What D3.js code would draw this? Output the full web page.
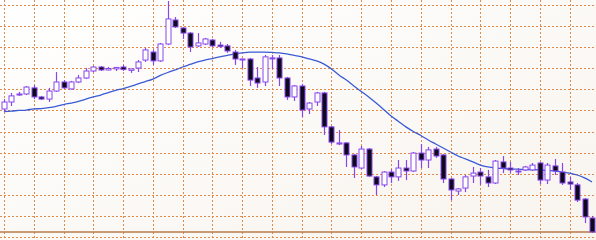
<!DOCTYPE html>
<html>
<head>
<meta charset="utf-8">
<script src="https://cdn.jsdelivr.net/npm/d3@7"></script>
<style>
  body { margin: 0; background: #fff; }
  svg { display: block; }
</style>
</head>
<body>
<script>
// candle data (arbitrary price units, grid step = 10)
var openVals = [60.7, 64.0, 67.6, 67.8, 70.7, 66.4, 65.4, 69.2, 73.5, 70.2,
    73.5, 75.4, 78.7, 80.6, 79.2, 79.7, 80.6, 79.0, 80.1, 83.9,
    87.7, 83.5, 91.5, 102.9, 99.1, 96.7, 90.6, 91.5, 93.4, 91.0,
    90.6, 87.7, 84.0, 84.4, 75.4, 73.5, 84.9, 84.9, 75.4, 66.4,
    71.6, 60.7, 64.0, 68.3, 52.2, 44.1, 44.6, 38.9, 32.7, 41.7,
    28.5, 24.7, 30.8, 28.5, 32.7, 31.3, 39.8, 36.5, 41.7, 38.9,
    27.5, 21.8, 23.2, 28.9, 30.8, 28.5, 25.6, 35.6, 32.7, 31.3,
    31.8, 31.8, 35.1, 27.0, 33.7, 30.8, 26.1, 24.7, 18.0, 9.0];

var highVals = [65.4, 68.3, 68.8, 71.6, 72.1, 66.9, 70.7, 78.2, 74.4, 74.0,
    76.8, 80.1, 81.1, 81.1, 80.6, 80.6, 81.6, 79.7, 83.9, 89.6,
    88.7, 92.0, 111.9, 104.3, 99.6, 97.2, 96.7, 94.4, 93.9, 92.5,
    91.5, 88.7, 84.6, 84.9, 80.6, 86.3, 86.3, 86.3, 75.9, 72.1,
    72.6, 64.0, 68.8, 68.8, 52.6, 50.7, 45.0, 39.4, 43.2, 42.2,
    28.9, 31.3, 32.2, 36.5, 36.5, 40.3, 44.1, 42.7, 42.7, 39.4,
    28.0, 23.2, 29.4, 33.2, 32.7, 31.8, 36.5, 38.4, 35.6, 32.7,
    33.7, 35.1, 35.6, 35.1, 37.0, 35.1, 28.5, 25.6, 18.5, 10.0];

var lowVals = [59.3, 62.1, 66.9, 67.3, 65.4, 65.0, 64.0, 68.8, 70.2, 69.9,
    73.0, 74.9, 78.2, 78.7, 79.0, 78.7, 78.7, 77.8, 78.2, 83.0,
    81.6, 83.0, 91.0, 99.1, 93.9, 87.7, 90.1, 91.0, 90.1, 89.6,
    87.3, 81.6, 80.1, 71.6, 70.7, 71.6, 79.7, 71.6, 65.0, 64.5,
    56.9, 58.3, 62.1, 48.4, 44.1, 43.6, 33.2, 28.0, 32.2, 28.5,
    19.9, 23.7, 25.6, 26.6, 27.0, 30.8, 32.7, 32.7, 37.5, 25.6,
    17.5, 19.9, 21.3, 25.6, 24.7, 23.7, 25.1, 30.3, 30.3, 29.4,
    31.3, 31.3, 25.1, 25.1, 29.4, 24.7, 22.3, 16.6, 6.6, 1.9];

var closeVals = [64.0, 66.9, 67.8, 71.1, 66.4, 65.4, 69.2, 73.5, 70.7, 73.5,
    75.4, 78.7, 80.6, 79.2, 79.9, 80.4, 79.4, 79.7, 83.0, 88.7,
    83.5, 91.5, 103.4, 99.6, 96.7, 90.1, 92.0, 93.9, 90.6, 90.3,
    88.2, 84.4, 84.4, 74.4, 73.0, 85.4, 84.6, 75.4, 66.4, 71.6,
    60.2, 63.5, 68.3, 52.2, 45.0, 44.6, 38.9, 33.2, 41.7, 28.9,
    24.7, 30.8, 28.5, 32.7, 31.3, 39.8, 36.5, 41.3, 38.4, 27.5,
    22.3, 22.8, 28.5, 30.3, 28.9, 25.6, 36.0, 32.7, 31.8, 31.1,
    33.2, 34.1, 27.0, 34.1, 31.3, 25.6, 25.1, 17.5, 9.5, 2.4];

// moving average (blue line), one value per candle
var maVals = [59.5, 59.7, 60.0, 60.2, 60.7, 60.9, 61.3, 61.9, 62.8, 63.5,
    64.3, 65.4, 66.4, 67.3, 68.5, 69.5, 70.4, 71.4, 72.6, 73.7,
    74.9, 76.6, 78.0, 79.2, 80.6, 81.8, 83.0, 83.9, 84.6, 85.4,
    86.1, 86.8, 87.3, 87.7, 87.7, 87.7, 87.5, 87.3, 86.8, 86.1,
    85.4, 84.4, 83.5, 82.0, 79.7, 76.8, 74.4, 71.6, 69.0, 66.4,
    63.5, 60.5, 57.4, 54.8, 52.2, 50.0, 48.1, 46.0, 44.1, 42.2,
    40.3, 38.4, 37.0, 35.6, 34.1, 33.2, 32.7, 32.5, 32.2, 32.2,
    32.0, 32.0, 31.8, 31.5, 31.3, 30.8, 30.3, 29.4, 28.0, 26.1];

// price levels of the horizontal grid
var gridLevels = [0, 10, 20, 30, 40, 50, 60, 70, 80, 90, 100, 110];

var width = 596;
var height = 240;

var colors = {
    grid: '#e08a4c',
    wick: '#8747ec',
    bull: '#ffffff',
    bear: '#0c0a1c',
    ma: '#3a5ad6',
    last: '#b87a48'
};

var data = openVals.map(function(o, i) {
    return {
        i: i,
        open: o,
        high: highVals[i],
        low: lowVals[i],
        close: closeVals[i],
        ma: maVals[i]
    };
});

var svg = d3.select("body").append("svg")
    .attr("width", width)
    .attr("height", height);

// faint warm tint like the photo
var grad = svg.append("defs").append("linearGradient")
    .attr("id", "bg")
    .attr("x1", "0").attr("y1", "0")
    .attr("x2", "1").attr("y2", "1");
grad.append("stop").attr("offset", "0%").attr("stop-color", "#ffffff");
grad.append("stop").attr("offset", "100%").attr("stop-color", "#f8f4ee");

svg.append("rect")
    .attr("width", width)
    .attr("height", height)
    .attr("fill", "url(#bg)");

var xScale = d3.scaleLinear()
    .domain([0, data.length - 1])
    .range([4, 592]);

var yScale = d3.scaleLinear()
    .domain([0, 110])
    .range([237, 5]);

// vertical grid every 4 candles
var xTicks = d3.range(0, data.length, 4);

svg.append("g")
    .attr("class", "grid")
    .selectAll("line")
    .data(xTicks)
    .enter()
    .append("line")
    .attr("x1", function(d) { return Math.round(xScale(d)) + 0.5; })
    .attr("x2", function(d) { return Math.round(xScale(d)) + 0.5; })
    .attr("y1", 0)
    .attr("y2", height)
    .style("stroke", colors.grid)
    .style("stroke-width", 1)
    .style("stroke-dasharray", "2,2");

svg.append("g")
    .attr("class", "grid")
    .selectAll("line")
    .data(gridLevels)
    .enter()
    .append("line")
    .attr("x1", 0)
    .attr("x2", width)
    .attr("y1", function(d) { return Math.round(yScale(d)) + 0.5; })
    .attr("y2", function(d) { return Math.round(yScale(d)) + 0.5; })
    .style("stroke", colors.grid)
    .style("stroke-width", 1)
    .style("stroke-dasharray", "2,2");

// last price line
var lastClose = closeVals[closeVals.length - 1];
svg.append("line")
    .attr("x1", 0)
    .attr("x2", width)
    .attr("y1", yScale(lastClose))
    .attr("y2", yScale(lastClose))
    .style("stroke", colors.last)
    .style("stroke-width", 1.5);

// moving average
var maLine = d3.line()
    .x(function(d) { return xScale(d.i); })
    .y(function(d) { return yScale(d.ma); })
    .curve(d3.curveMonotoneX);

svg.append("path")
    .datum(data)
    .attr("d", maLine)
    .style("fill", "none")
    .style("stroke", colors.ma)
    .style("stroke-width", 1.3);

// candles
var candles = svg.append("g")
    .attr("class", "candles")
    .selectAll("g")
    .data(data)
    .enter()
    .append("g");

candles.append("line")
    .attr("x1", function(d) { return Math.round(xScale(d.i)) + 0.5; })
    .attr("x2", function(d) { return Math.round(xScale(d.i)) + 0.5; })
    .attr("y1", function(d) { return yScale(d.high); })
    .attr("y2", function(d) { return yScale(d.low); })
    .style("stroke", colors.wick)
    .style("stroke-width", 1.2);

var bodyW = 5;

candles.append("rect")
    .attr("x", function(d) { return Math.round(xScale(d.i)) + 0.5 - bodyW / 2; })
    .attr("y", function(d) { return yScale(Math.max(d.open, d.close)); })
    .attr("width", bodyW)
    .attr("height", function(d) {
        return Math.max(1, Math.abs(yScale(d.open) - yScale(d.close)));
    })
    .style("fill", function(d) {
        return d.close >= d.open ? colors.bull : colors.bear;
    })
    .style("stroke", colors.wick)
    .style("stroke-width", 1);
</script>
</body>
</html>
